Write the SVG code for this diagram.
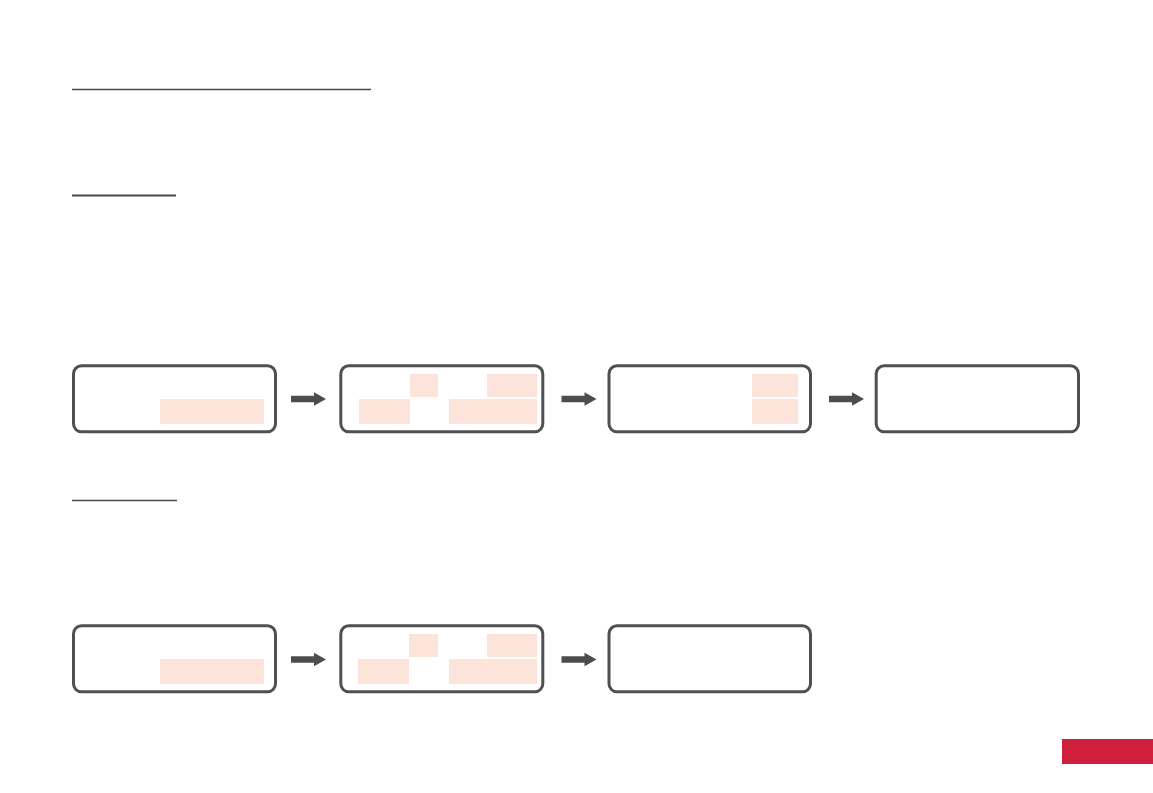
<svg xmlns="http://www.w3.org/2000/svg" width="1153" height="793" viewBox="0 0 1153 793">
<style>
.box{fill:#fff;stroke:#505050;stroke-width:3}
.hl{fill:#fde4db}
.rule{stroke:#4a4a4a;stroke-width:1.5}
.arr{fill:#4d4d4d}
</style>
<defs>
<path id="arrow" class="arr" d="M0,-3.3 H23 V-6.7 L35,0 L23,6.7 V3.3 H0 Z"/>
</defs>
<rect width="1153" height="793" fill="#fff"/>
<g id="rules">
<line class="rule" x1="72" y1="89.5" x2="371" y2="89.5"/>
<line class="rule" x1="72" y1="195.5" x2="176" y2="195.5" style="stroke-width:2"/>
<line class="rule" x1="72" y1="500.5" x2="177" y2="500.5"/>
</g>
<g id="n1a">
<rect class="box" x="73.5" y="365.8" width="202" height="66" rx="8"/>
<rect class="hl" x="160" y="399" width="104" height="25"/>
</g>
<g id="n2a">
<rect class="box" x="340.8" y="365.8" width="202" height="66" rx="8"/>
<rect class="hl" x="410" y="374" width="28" height="23"/>
<rect class="hl" x="487" y="374" width="50" height="23"/>
<rect class="hl" x="359" y="399" width="51" height="25"/>
<rect class="hl" x="449" y="399" width="88" height="25"/>
</g>
<g id="n3a">
<rect class="box" x="609" y="365.8" width="201.5" height="66" rx="8"/>
<rect class="hl" x="752" y="374" width="46" height="23"/>
<rect class="hl" x="752" y="399" width="46" height="25"/>
</g>
<g id="n4a">
<rect class="box" x="876.2" y="365.8" width="202.3" height="66" rx="8"/>
</g>
<g id="n1b">
<rect class="box" x="73.5" y="625.8" width="202" height="66" rx="8"/>
<rect class="hl" x="160" y="659" width="104" height="25"/>
</g>
<g id="n2b">
<rect class="box" x="340.8" y="625.8" width="202" height="66" rx="8"/>
<rect class="hl" x="409" y="634" width="29" height="23"/>
<rect class="hl" x="487" y="634" width="50" height="23"/>
<rect class="hl" x="358" y="659" width="51" height="25"/>
<rect class="hl" x="449" y="659" width="88" height="25"/>
</g>
<g id="n3b">
<rect class="box" x="609" y="625.8" width="201.5" height="66" rx="8"/>
</g>
<g id="connectors">
<use href="#arrow" x="291" y="399"/>
<use href="#arrow" x="561.5" y="399"/>
<use href="#arrow" x="829" y="399"/>
<use href="#arrow" x="291" y="659.5"/>
<use href="#arrow" x="561.5" y="659.5"/>
</g>
<g id="badge">
<rect x="1062" y="739" width="91" height="25" fill="#d01f3c"/>
</g>
</svg>
